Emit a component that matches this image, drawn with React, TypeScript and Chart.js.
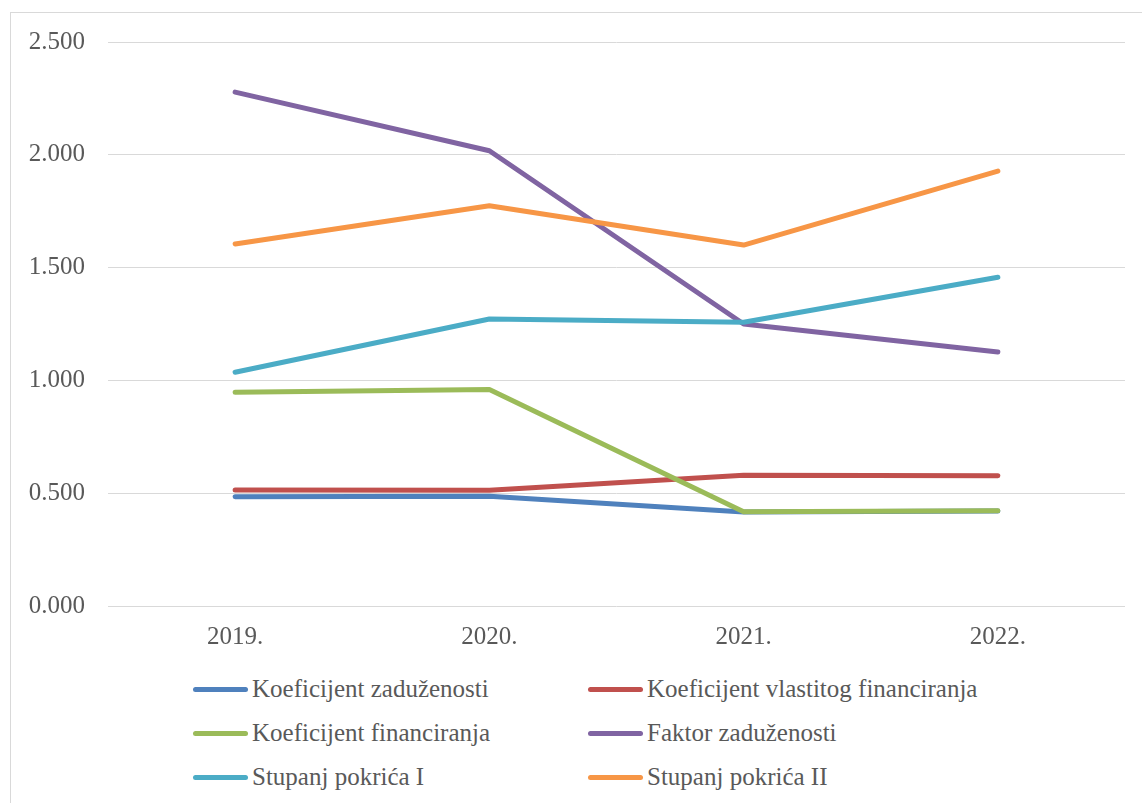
import React, { useEffect, useRef } from "react";
import { Chart, registerables } from "chart.js";

Chart.register(...registerables);

const years = ["2019.", "2020.", "2021.", "2022."];
const koefZaduzenosti = [0.484, 0.487, 0.417, 0.421];
const koefVlastitogFinanciranja = [0.514, 0.513, 0.580, 0.577];
const koefFinanciranja = [0.947, 0.960, 0.418, 0.422];
const faktorZaduzenosti = [2.278, 2.018, 1.250, 1.126];
const stupanjPokricaI = [1.036, 1.272, 1.258, 1.457];
const stupanjPokricaII = [1.605, 1.774, 1.600, 1.928];

const seriesNames = [
  "Koeficijent zaduženosti",
  "Koeficijent vlastitog financiranja",
  "Koeficijent financiranja",
  "Faktor zaduženosti",
  "Stupanj pokrića I",
  "Stupanj pokrića II",
];
const seriesColors = ["#4F81BD", "#C0504D", "#9BBB59", "#8064A2", "#4BACC6", "#F79646"];
const seriesValues = [
  koefZaduzenosti,
  koefVlastitogFinanciranja,
  koefFinanciranja,
  faktorZaduzenosti,
  stupanjPokricaI,
  stupanjPokricaII,
];

const FONT = "'Liberation Serif', serif";
const TEXT_COLOR = "#595959";
const FONT_SIZE = 25;

export default function App() {
  const canvasRef = useRef<HTMLCanvasElement | null>(null);

  useEffect(() => {
    if (!canvasRef.current) return;
    const chart = new Chart(canvasRef.current, {
      type: "line",
      data: {
        labels: years,
        datasets: seriesNames.map((name, i) => ({
          label: name,
          data: seriesValues[i],
          borderColor: seriesColors[i],
          backgroundColor: seriesColors[i],
          borderWidth: 5,
          borderCapStyle: "round" as const,
          borderJoinStyle: "round" as const,
          pointRadius: 0,
          tension: 0,
          order: seriesNames.length - i,
        })),
      },
      options: {
        responsive: false,
        animation: false,
        layout: { padding: { top: 42, right: 17, left: 0, bottom: 0 } },
        plugins: {
          legend: { display: false },
          tooltip: { enabled: false },
        },
        scales: {
          x: {
            offset: true,
            grid: { display: false, drawTicks: false },
            border: { display: false },
            ticks: {
              font: { family: FONT, size: FONT_SIZE },
              color: TEXT_COLOR,
              padding: 16,
              maxRotation: 0,
            },
            afterFit: (scale: any) => {
              scale.height = 54;
            },
          },
          y: {
            min: 0,
            max: 2.5,
            grid: { color: "#d9d9d9", lineWidth: 1, drawTicks: false },
            border: { display: false },
            ticks: {
              stepSize: 0.5,
              font: { family: FONT, size: FONT_SIZE },
              color: TEXT_COLOR,
              padding: 23,
              callback: (v: any) => Number(v).toFixed(3),
            },
            afterFit: (scale: any) => {
              scale.width = 108;
            },
          },
        },
      },
    });
    return () => chart.destroy();
  }, []);

  const colLeft = [193, 588];
  const rowCenters = [689, 733, 777];

  return (
    <div
      style={{
        position: "fixed",
        left: 0,
        top: 0,
        width: 1142,
        height: 803,
        overflow: "hidden",
        background: "#ffffff",
      }}
    >
      <div
        style={{
          position: "absolute",
          left: 10,
          top: 12,
          width: 1200,
          height: 900,
          border: "1px solid #d9d9d9",
          boxSizing: "border-box",
        }}
      />
      <canvas
        ref={canvasRef}
        width={1142}
        height={660}
        style={{ position: "absolute", left: 0, top: 0, width: 1142, height: 660 }}
      />
      {seriesNames.map((name, i) => {
        const col = i % 2;
        const row = Math.floor(i / 2);
        return (
          <div
            key={name}
            style={{
              position: "absolute",
              left: colLeft[col],
              top: rowCenters[row] - 15,
              height: 30,
              display: "flex",
              alignItems: "center",
              whiteSpace: "nowrap",
            }}
          >
            <span
              style={{
                display: "inline-block",
                width: 55,
                height: 5,
                borderRadius: 3,
                background: seriesColors[i],
              }}
            />
            <span
              style={{
                marginLeft: 4,
                fontFamily: FONT,
                fontSize: FONT_SIZE,
                color: TEXT_COLOR,
                lineHeight: "30px",
              }}
            >
              {name}
            </span>
          </div>
        );
      })}
    </div>
  );
}
